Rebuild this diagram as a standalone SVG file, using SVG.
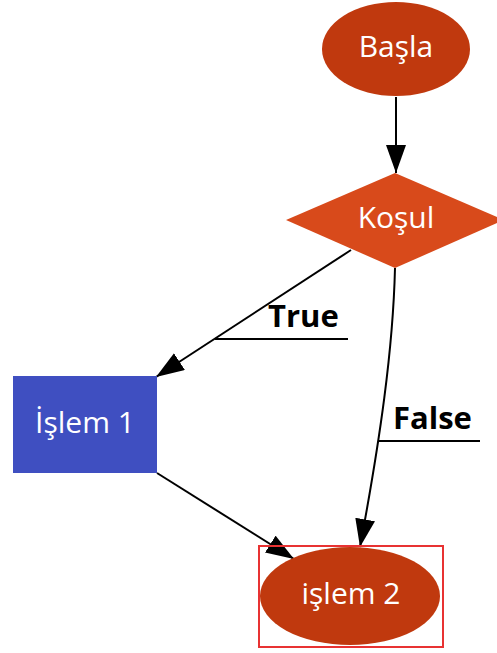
<svg xmlns="http://www.w3.org/2000/svg" width="497" height="653" viewBox="0 0 497 653">
<style>
.lbl{font-family:"Open Sans","Noto Sans",sans-serif;font-size:30px;fill:#ffffff;text-anchor:middle}
.elbl{font-family:"Open Sans","Noto Sans",sans-serif;font-size:31px;font-weight:bold;fill:#000000}
.edge{fill:none;stroke:#000000;stroke-width:2}
</style>
<defs>
<marker id="arr" markerUnits="userSpaceOnUse" markerWidth="30" markerHeight="22" refX="28" refY="10" orient="auto">
<path d="M0,0 L28,10 L0,20 z" fill="#000000"/>
</marker>
</defs>
<rect width="497" height="653" fill="#ffffff"/>
<g id="connectors">
<line class="edge" x1="396" y1="97" x2="396" y2="173" marker-end="url(#arr)"/>
<line class="edge" x1="351" y1="250" x2="156" y2="377" marker-end="url(#arr)"/>
<path class="edge" d="M395,268 C393,350 380,440 360,547" marker-end="url(#arr)"/>
<line class="edge" x1="157" y1="473" x2="294" y2="559" marker-end="url(#arr)"/>
<line class="edge" x1="215" y1="339" x2="348" y2="339"/>
<text class="elbl" x="268" y="327">True</text>
<line class="edge" x1="378" y1="441" x2="480" y2="441"/>
<text class="elbl" x="393" y="429">False</text>
</g>
<g id="basla">
<ellipse cx="396" cy="49" rx="74" ry="47" fill="#c0390e"/>
<text class="lbl" x="396" y="57">Başla</text>
</g>
<g id="kosul">
<polygon points="395,173 504,220 395,268 286,220" fill="#d84a1b"/>
<text class="lbl" x="396" y="228">Koşul</text>
</g>
<g id="islem1">
<rect x="13" y="376" width="144" height="97" fill="#3f4fc1"/>
<text class="lbl" x="85" y="433">İşlem 1</text>
</g>
<g id="islem2">
<ellipse cx="350" cy="596" rx="90" ry="49" fill="#c0390e"/>
<rect x="259" y="546" width="184" height="101" fill="none" stroke="#e83232" stroke-width="2"/>
<text class="lbl" x="351" y="604">işlem 2</text>
</g>
</svg>
